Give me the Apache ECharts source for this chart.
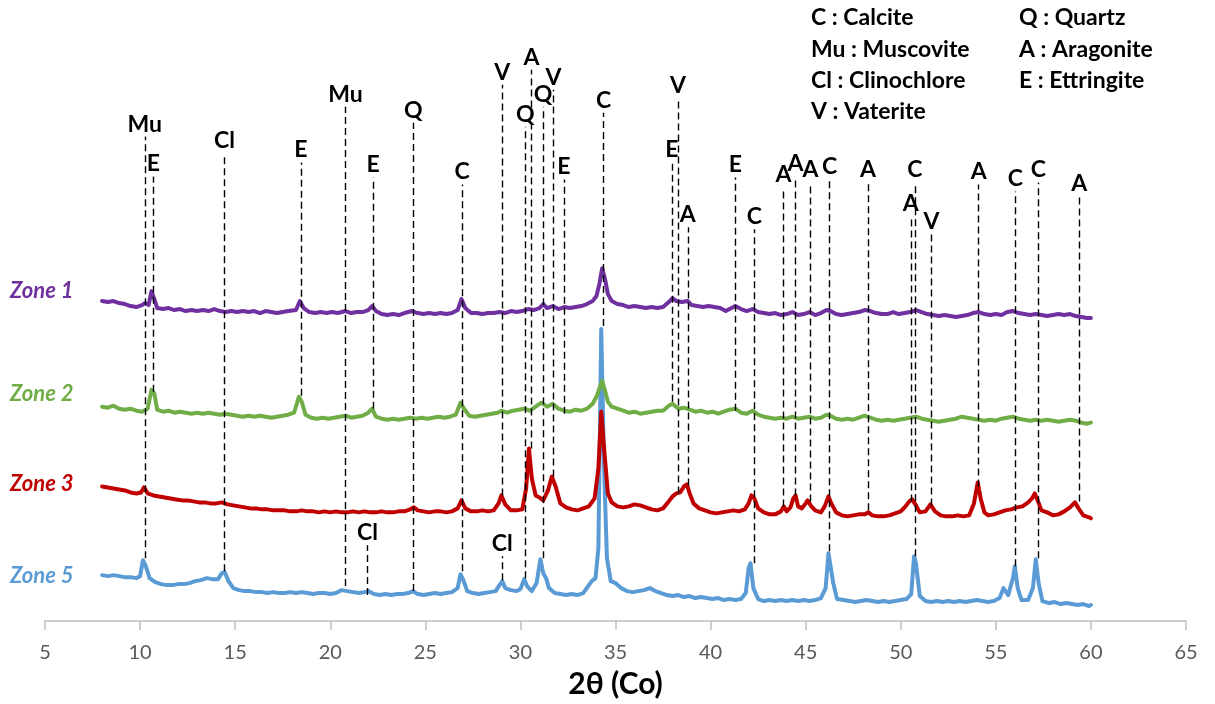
<!DOCTYPE html>
<html><head><meta charset="utf-8">
<script src="https://cdn.jsdelivr.net/npm/echarts@6/dist/echarts.min.js"></script>
<style>html,body{margin:0;padding:0;background:#fff}#c{width:1215px;height:704px}</style>
</head><body><div id="c"></div>
<script>
// Stacked (offset) XRD traces, 2θ in degrees vs. relative intensity (arbitrary units, offset included)
const zone1 = [[8.0,323],[8.3,322],[8.6,323],[8.9,321],[9.2,320],[9.5,318],[9.8,317],[10.1,319],[10.25,321],[10.45,319],[10.6,333],[10.75,325],[10.9,316],[11.2,315],[11.5,316],[11.8,314],[12.1,315],[12.4,313],[12.7,314],[13.0,313],[13.3,314],[13.6,313],[13.9,315],[14.2,313],[14.5,312],[14.8,313],[15.1,312],[15.4,313],[15.7,312],[16.0,313],[16.3,311],[16.6,313],[16.9,312],[17.2,311],[17.5,312],[17.8,313],[18.2,314],[18.4,323],[18.6,316],[18.9,312],[19.2,311],[19.5,312],[19.8,311],[20.1,312],[20.4,311],[20.8,313],[21.1,311],[21.4,312],[21.7,312],[22.0,314],[22.2,318],[22.4,313],[22.7,310],[23.0,309],[23.3,310],[23.6,309],[23.9,311],[24.3,313],[24.6,311],[24.9,310],[25.2,311],[25.5,310],[25.8,311],[26.1,310],[26.4,311],[26.7,314],[26.9,325],[27.1,316],[27.4,311],[27.7,311],[28.0,310],[28.3,311],[28.6,311],[28.9,312],[29.2,311],[29.5,313],[29.8,312],[30.1,313],[30.4,315],[30.7,314],[31.0,316],[31.2,320],[31.4,316],[31.7,318],[32.0,315],[32.3,317],[32.6,316],[32.9,317],[33.2,318],[33.5,320],[33.8,323],[34.0,328],[34.15,340],[34.3,356],[34.45,345],[34.6,330],[34.8,323],[35.1,320],[35.4,319],[35.7,317],[36.0,318],[36.3,317],[36.6,316],[36.9,317],[37.2,316],[37.5,317],[37.8,322],[38.0,326],[38.2,323],[38.5,322],[38.8,323],[39.0,319],[39.3,318],[39.6,317],[39.9,318],[40.2,317],[40.5,316],[40.8,313],[41.1,316],[41.3,318],[41.6,315],[41.9,313],[42.2,315],[42.5,312],[42.8,311],[43.1,310],[43.4,311],[43.7,309],[44.0,310],[44.3,312],[44.6,309],[44.9,310],[45.2,312],[45.5,309],[45.8,311],[46.1,314],[46.3,313],[46.6,310],[46.9,309],[47.2,310],[47.5,311],[47.8,312],[48.1,314],[48.4,313],[48.7,311],[49.0,310],[49.3,310],[49.6,312],[49.9,310],[50.2,311],[50.5,312],[50.8,314],[51.1,312],[51.4,310],[51.7,309],[52.0,308],[52.3,309],[52.6,308],[52.9,307],[53.2,308],[53.5,309],[53.8,311],[54.1,312],[54.4,310],[54.7,309],[55.0,310],[55.3,309],[55.6,312],[55.9,313],[56.2,311],[56.5,310],[56.8,309],[57.1,310],[57.4,309],[57.7,308],[58.0,309],[58.3,310],[58.6,309],[58.9,310],[59.2,308],[59.5,307],[59.8,306],[60.0,306]];

const zone2 = [[8.0,217],[8.3,216],[8.6,218],[8.9,215],[9.2,214],[9.5,215],[9.8,213],[10.1,212],[10.4,215],[10.6,234],[10.75,230],[10.9,214],[11.2,212],[11.5,213],[11.8,211],[12.1,212],[12.4,211],[12.7,210],[13.0,211],[13.3,210],[13.6,211],[13.9,210],[14.2,209],[14.5,210],[14.8,209],[15.1,208],[15.4,207],[15.7,208],[16.0,207],[16.3,208],[16.6,207],[16.9,206],[17.2,207],[17.5,208],[17.8,209],[18.1,211],[18.35,227],[18.5,222],[18.7,209],[19.0,206],[19.3,205],[19.6,206],[19.9,205],[20.2,206],[20.5,207],[20.8,208],[21.1,206],[21.4,207],[21.7,208],[22.0,211],[22.2,215],[22.4,207],[22.7,205],[23.0,204],[23.3,205],[23.6,204],[23.9,205],[24.2,206],[24.5,205],[24.8,206],[25.1,205],[25.4,206],[25.7,207],[26.0,206],[26.3,207],[26.6,209],[26.85,221],[27.0,216],[27.3,208],[27.6,207],[27.9,208],[28.2,209],[28.5,210],[28.8,211],[29.0,213],[29.3,211],[29.6,213],[29.9,214],[30.2,215],[30.5,213],[30.8,217],[31.1,221],[31.4,217],[31.7,220],[32.0,215],[32.3,213],[32.6,212],[32.9,214],[33.2,213],[33.5,215],[33.8,220],[34.0,227],[34.15,235],[34.3,243],[34.45,233],[34.6,222],[34.8,217],[35.1,215],[35.4,213],[35.7,211],[36.0,212],[36.3,210],[36.6,211],[36.9,212],[37.2,213],[37.5,213],[37.8,218],[38.0,220],[38.3,215],[38.6,216],[38.9,214],[39.2,212],[39.5,213],[39.8,211],[40.1,212],[40.4,210],[40.7,212],[41.0,214],[41.3,215],[41.6,211],[41.9,210],[42.2,213],[42.5,209],[42.8,207],[43.1,206],[43.4,205],[43.7,206],[44.0,205],[44.3,207],[44.6,205],[44.9,206],[45.2,207],[45.5,205],[45.8,206],[46.1,209],[46.3,208],[46.6,205],[46.9,204],[47.2,205],[47.5,204],[47.8,206],[48.1,208],[48.4,206],[48.7,204],[49.0,203],[49.3,204],[49.6,203],[49.9,204],[50.2,205],[50.5,206],[50.8,207],[51.1,205],[51.4,204],[51.7,203],[52.0,202],[52.3,203],[52.6,204],[52.9,205],[53.2,207],[53.5,206],[53.8,205],[54.1,204],[54.4,203],[54.7,204],[55.0,203],[55.3,205],[55.6,206],[55.9,207],[56.2,205],[56.5,204],[56.8,203],[57.1,204],[57.4,203],[57.7,204],[58.0,203],[58.3,202],[58.6,203],[58.9,204],[59.2,203],[59.5,201],[59.8,200],[60.0,201]];

const zone3 = [[8.0,137],[8.3,136],[8.6,135],[8.9,134],[9.2,133],[9.5,131],[9.8,130],[10.05,131],[10.2,136],[10.4,130],[10.7,128],[11.0,127],[11.3,126],[11.6,125],[11.9,124],[12.2,123],[12.5,123],[12.8,122],[13.1,121],[13.4,121],[13.7,120],[14.0,120],[14.3,121],[14.6,119],[14.9,118],[15.2,117],[15.5,116],[15.8,115],[16.1,115],[16.4,114],[16.7,114],[17.0,113],[17.3,113],[17.6,113],[17.9,112],[18.2,112],[18.5,113],[18.8,112],[19.1,112],[19.4,111],[19.7,112],[20.0,111],[20.3,112],[20.6,111],[20.9,111],[21.2,112],[21.5,111],[21.8,112],[22.1,111],[22.4,111],[22.7,112],[23.0,111],[23.3,111],[23.6,112],[23.9,112],[24.2,114],[24.4,116],[24.6,113],[24.9,112],[25.2,111],[25.5,112],[25.8,112],[26.1,111],[26.4,112],[26.7,115],[26.9,123],[27.1,115],[27.4,112],[27.7,112],[28.0,113],[28.3,112],[28.6,113],[28.85,120],[29.0,128],[29.2,119],[29.5,113],[29.8,113],[30.1,114],[30.3,135],[30.45,175],[30.6,145],[30.8,128],[31.0,126],[31.2,123],[31.45,133],[31.65,147],[31.85,137],[32.1,120],[32.4,116],[32.7,114],[33.0,113],[33.3,115],[33.6,117],[33.9,125],[34.1,155],[34.25,212],[34.4,175],[34.6,130],[34.8,121],[35.1,117],[35.4,116],[35.7,117],[36.0,119],[36.3,118],[36.6,116],[36.9,114],[37.2,113],[37.5,115],[37.8,122],[38.0,127],[38.2,130],[38.4,131],[38.6,137],[38.75,139],[38.9,130],[39.1,120],[39.4,115],[39.7,113],[40.0,111],[40.3,110],[40.6,111],[40.9,112],[41.2,113],[41.5,112],[41.8,114],[42.0,120],[42.15,128],[42.3,125],[42.5,115],[42.8,111],[43.1,109],[43.4,109],[43.7,112],[43.85,117],[44.0,112],[44.2,116],[44.35,125],[44.47,128],[44.6,117],[44.8,115],[45.0,120],[45.1,123],[45.3,117],[45.5,113],[45.8,111],[46.0,117],[46.2,127],[46.35,120],[46.6,111],[46.9,108],[47.2,107],[47.5,108],[47.8,109],[48.1,109],[48.3,111],[48.5,108],[48.8,107],[49.1,107],[49.4,108],[49.7,110],[50.0,112],[50.25,117],[50.45,122],[50.6,124],[50.8,118],[51.0,111],[51.3,112],[51.56,119],[51.8,112],[52.1,108],[52.4,107],[52.7,107],[53.0,108],[53.3,107],[53.6,108],[53.85,120],[54.05,141],[54.2,125],[54.4,111],[54.6,108],[54.9,109],[55.2,111],[55.5,113],[55.8,114],[56.1,116],[56.4,117],[56.7,121],[56.9,125],[57.05,130],[57.2,123],[57.4,113],[57.7,111],[58.0,108],[58.3,109],[58.6,112],[58.9,116],[59.16,121],[59.35,115],[59.6,108],[59.9,106],[60.0,105]];

const zone5 = [[8.0,48],[8.3,47],[8.6,48],[8.9,47],[9.2,46],[9.5,46],[9.8,45],[10.0,47],[10.15,63],[10.3,57],[10.5,45],[10.8,41],[11.1,39],[11.4,38],[11.7,38],[12.0,39],[12.3,39],[12.6,40],[12.9,42],[13.2,43],[13.5,45],[13.8,44],[14.1,44],[14.3,50],[14.45,51],[14.65,42],[14.9,35],[15.2,33],[15.5,32],[15.8,32],[16.1,31],[16.4,31],[16.7,30],[17.0,31],[17.3,30],[17.6,30],[17.9,31],[18.2,30],[18.5,31],[18.8,30],[19.1,29],[19.4,30],[19.7,30],[20.0,29],[20.3,30],[20.6,33],[20.9,32],[21.2,31],[21.5,30],[21.8,31],[22.0,32],[22.3,29],[22.6,28],[22.9,29],[23.2,28],[23.5,29],[23.8,29],[24.1,30],[24.35,32],[24.6,29],[24.9,28],[25.2,29],[25.5,30],[25.8,29],[26.1,30],[26.4,31],[26.7,35],[26.85,49],[27.0,43],[27.2,32],[27.5,30],[27.8,29],[28.1,30],[28.4,31],[28.7,32],[28.9,38],[29.05,42],[29.2,35],[29.5,33],[29.8,32],[30.0,34],[30.2,44],[30.35,37],[30.6,32],[30.85,40],[31.05,64],[31.2,50],[31.35,45],[31.5,35],[31.8,30],[32.1,29],[32.4,28],[32.7,29],[33.0,28],[33.3,30],[33.6,38],[33.75,42],[33.95,45],[34.1,75],[34.25,295],[34.4,155],[34.55,65],[34.75,42],[35.0,40],[35.3,35],[35.6,32],[35.9,31],[36.2,32],[36.5,33],[36.8,35],[37.1,32],[37.4,30],[37.7,28],[38.0,27],[38.3,28],[38.6,26],[38.9,27],[39.2,25],[39.5,26],[39.8,25],[40.1,24],[40.4,25],[40.7,23],[41.0,24],[41.3,23],[41.6,24],[41.85,30],[42.0,55],[42.1,60],[42.25,35],[42.5,24],[42.8,22],[43.1,23],[43.4,22],[43.7,23],[44.0,22],[44.3,23],[44.6,22],[44.9,23],[45.2,22],[45.5,23],[45.8,25],[46.05,35],[46.2,70],[46.3,72],[46.45,40],[46.65,24],[47.0,23],[47.3,22],[47.6,21],[47.9,22],[48.2,23],[48.5,22],[48.8,21],[49.1,22],[49.4,21],[49.7,22],[50.0,23],[50.3,24],[50.55,29],[50.7,67],[50.8,60],[51.0,27],[51.3,22],[51.6,21],[51.9,22],[52.2,21],[52.5,22],[52.8,21],[53.1,22],[53.4,21],[53.7,22],[54.0,23],[54.3,22],[54.6,21],[54.9,22],[55.2,25],[55.4,35],[55.5,36],[55.65,28],[55.9,45],[56.0,57],[56.15,35],[56.35,23],[56.7,23],[56.95,35],[57.1,64],[57.25,40],[57.45,22],[57.8,20],[58.1,21],[58.4,19],[58.7,20],[59.0,19],[59.3,18],[59.6,19],[59.9,17],[60.0,18]];

// Phase identification markers
const peakPos    = [10.25,10.7,14.44,18.46,20.8,22.26,24.37,26.93,29.04,30.26,30.58,31.19,31.74,32.28,34.38,37.96,38.28,38.8,41.3,42.3,43.84,44.47,45.26,46.26,48.28,50.53,50.74,51.62,54.1,56.03,57.23,59.38,21.96,29.04];
const peakLabel  = ['Mu','E','Cl','E','Mu','E','Q','C','V','Q','A','Q','V','E','C','E','V','A','E','C','A','A','A','C','A','A','C','V','A','C','C','A','Cl','Cl'];
const peakTop    = [488,448,471,462,518,447,502,440,540,498,555,518,535,445,512,462,527,397,447,395,437,448,442,445,442,408,442,390,440,433,442,428,78,67];
const peakBottom = [65,232,52,228,37,215,32,52,128,45,175,65,147,210,298,222,130,138,213,60,117,128,122,72,113,122,67,118,137,57,65,122,28,43];

const zoneNames  = ['Zone 1','Zone 2','Zone 3','Zone 5'];
const zoneColors = ['#7030A0','#70AD47','#C00000','#5B9BD5'];
const legendLeft  = ['C : Calcite','Mu : Muscovite','Cl : Clinochlore','V : Vaterite'];
const legendRight = ['Q : Quartz','A : Aragonite','E : Ettringite'];
const axisTitle = '2θ (Co)';

const zoneData = [zone1, zone2, zone3, zone5];
const FONT = 'Lato, "Open Sans", sans-serif';

const chart = echarts.init(document.getElementById('c'), null, {renderer: 'canvas'});

const lineData = peakPos.map((x, i) => [
  {coord: [x, peakBottom[i]], name: peakLabel[i]},
  {coord: [x, peakTop[i]]}
]);

// series drawn back-to-front: Zone 5, Zone 3, Zone 2, Zone 1
const series = [];
for (let k = zoneData.length - 1; k >= 0; k--) {
  series.push({
    name: zoneNames[k], type: 'line', data: zoneData[k],
    showSymbol: false, symbol: 'none', smooth: false,
    lineStyle: {color: zoneColors[k], width: 4, join: 'round', cap: 'round'},
    itemStyle: {color: zoneColors[k]}, silent: true, z: 2
  });
}
series.push({
  name: 'peaks', type: 'line', data: [], z: 5, silent: true,
  markLine: {
    silent: true, symbol: ['none', 'none'], animation: false,
    lineStyle: {color: '#000', width: 1.4, type: [7, 4]},
    label: {show: true, position: 'end', formatter: '{b}', distance: 1,
      color: '#000', fontFamily: FONT, fontWeight: 'bold', fontSize: 23},
    emphasis: {disabled: true},
    data: lineData
  }
});

// text annotations (layout positions in pixels)
const zoneLabelCenterY = [291, 394, 484, 576];
const graphic = [];
zoneNames.forEach((n, k) => {
  graphic.push({type: 'text', x: 10, y: zoneLabelCenterY[k], silent: true,
    style: {text: n, fill: zoneColors[k], fontSize: 22, fontStyle: 'italic',
      fontWeight: 'bold', fontFamily: FONT, verticalAlign: 'middle', align: 'left'}});
});
legendLeft.forEach((t, i) => {
  graphic.push({type: 'text', x: 811, y: 18 + i * 31.3, silent: true,
    style: {text: t, fill: '#000', fontSize: 23, fontWeight: 'bold', fontFamily: FONT,
      verticalAlign: 'middle', align: 'left'}});
});
legendRight.forEach((t, i) => {
  graphic.push({type: 'text', x: 1019, y: 18 + i * 31.3, silent: true,
    style: {text: t, fill: '#000', fontSize: 23, fontWeight: 'bold', fontFamily: FONT,
      verticalAlign: 'middle', align: 'left'}});
});

chart.setOption({
  animation: false,
  backgroundColor: '#fff',
  grid: {left: 45, right: 29, top: 23, bottom: 81},
  xAxis: {
    type: 'value', min: 5, max: 65, interval: 5,
    name: axisTitle, nameLocation: 'middle', nameGap: 48,
    nameTextStyle: {fontFamily: FONT, fontWeight: 'bold', fontSize: 30, color: '#000'},
    axisLine: {show: true, onZero: false, lineStyle: {color: '#BFBFBF', width: 1.5}},
    axisTick: {show: true, length: 9, lineStyle: {color: '#BFBFBF', width: 1.5}},
    axisLabel: {margin: 22, fontFamily: FONT, fontSize: 20, color: '#595959'},
    splitLine: {show: false}
  },
  yAxis: {type: 'value', min: 2, max: 602, show: false, splitLine: {show: false}},
  series: series,
  graphic: graphic
});
</script></body></html>
